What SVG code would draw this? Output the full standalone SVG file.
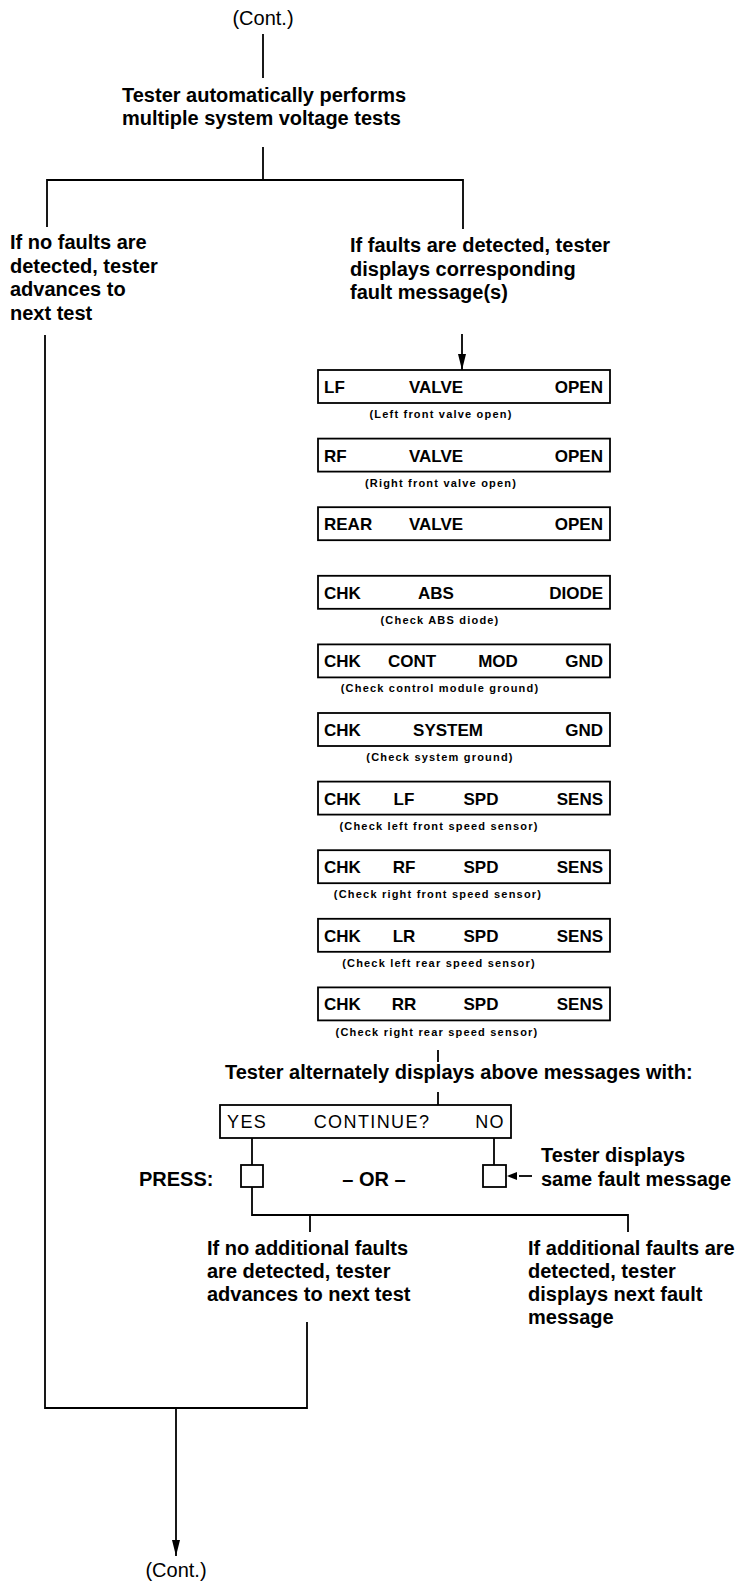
<svg xmlns="http://www.w3.org/2000/svg" width="739" height="1583" viewBox="0 0 739 1583">
<style>
text{font-family:"Liberation Sans",Arial,Helvetica,sans-serif;fill:#000}
.t{font-size:20px;font-weight:bold}
.c{font-size:20px}
.b{font-size:17px;font-weight:bold}
.r{font-size:18px;letter-spacing:1.4px}
.s{font-size:11px;font-weight:bold;letter-spacing:1.2px}
.m{text-anchor:middle}
.e{text-anchor:end}
.box{fill:#fff;stroke:#000;stroke-width:1.8}
.ln{fill:none;stroke:#000;stroke-width:1.8}
</style>
<defs>
<marker id="ah" viewBox="0 0 16 8" refX="16" refY="4" markerWidth="16" markerHeight="8" markerUnits="userSpaceOnUse" orient="auto"><path d="M0,0 L16,4 L0,8 Z" fill="#000"/></marker>
</defs>
<rect width="739" height="1583" fill="#fff"/>

<g id="connectors" class="ln">
<line x1="263" y1="34" x2="263" y2="78"/>
<line x1="263" y1="147" x2="263" y2="180"/>
<polyline points="47,227 47,180 463,180 463,229"/>
<line x1="462" y1="334" x2="462" y2="370" marker-end="url(#ah)"/>
<polyline points="45,335 45,1408 307,1408 307,1322"/>
<line x1="176" y1="1408" x2="176" y2="1556" marker-end="url(#ah)"/>
<line x1="438" y1="1050" x2="438" y2="1062"/>
<line x1="438" y1="1092" x2="438" y2="1105"/>
<line x1="252" y1="1138" x2="252" y2="1165"/>
<polyline points="252,1187 252,1215 628,1215 628,1232"/>
<line x1="310" y1="1215" x2="310" y2="1232"/>
<line x1="494" y1="1138" x2="494" y2="1165"/>
<line x1="532" y1="1176" x2="519" y2="1176"/>
<path d="M507,1176 L517,1172 L517,1180 Z" fill="#000" stroke="none"/>
</g>

<g id="cont-top"><text class="c m" x="263" y="25">(Cont.)</text></g>
<g id="auto-tests">
<text class="t" x="122" y="102">Tester automatically performs</text>
<text class="t" x="122" y="125">multiple system voltage tests</text>
</g>
<g id="no-faults">
<text class="t" x="10" y="249">If no faults are</text>
<text class="t" x="10" y="272.5">detected, tester</text>
<text class="t" x="10" y="296">advances to</text>
<text class="t" x="10" y="319.5">next test</text>
</g>
<g id="faults-detected">
<text class="t" x="350" y="252">If faults are detected, tester</text>
<text class="t" x="350" y="275.5">displays corresponding</text>
<text class="t" x="350" y="299">fault message(s)</text>
</g>

<g id="msg-lf-valve">
<rect class="box" x="318" y="370" width="292" height="33"/>
<text class="b" x="324" y="393">LF</text><text class="b m" x="436" y="393">VALVE</text><text class="b e" x="603" y="393">OPEN</text>
<text class="s m" x="441" y="418">(Left front valve open)</text>
</g>
<g id="msg-rf-valve">
<rect class="box" x="318" y="438.6" width="292" height="33"/>
<text class="b" x="324" y="461.6">RF</text><text class="b m" x="436" y="461.6">VALVE</text><text class="b e" x="603" y="461.6">OPEN</text>
<text class="s m" x="441" y="486.6">(Right front valve open)</text>
</g>
<g id="msg-rear-valve">
<rect class="box" x="318" y="507.2" width="292" height="33"/>
<text class="b" x="324" y="530.2">REAR</text><text class="b m" x="436" y="530.2">VALVE</text><text class="b e" x="603" y="530.2">OPEN</text>
</g>
<g id="msg-abs-diode">
<rect class="box" x="318" y="575.8" width="292" height="33"/>
<text class="b" x="324" y="598.8">CHK</text><text class="b m" x="436" y="598.8">ABS</text><text class="b e" x="603" y="598.8">DIODE</text>
<text class="s m" x="440" y="623.8">(Check ABS diode)</text>
</g>
<g id="msg-cont-mod-gnd">
<rect class="box" x="318" y="644.4" width="292" height="33"/>
<text class="b" x="324" y="667.4">CHK</text><text class="b m" x="412" y="667.4">CONT</text><text class="b m" x="498" y="667.4">MOD</text><text class="b e" x="603" y="667.4">GND</text>
<text class="s m" x="440" y="692.4">(Check control module ground)</text>
</g>
<g id="msg-system-gnd">
<rect class="box" x="318" y="713" width="292" height="33"/>
<text class="b" x="324" y="736">CHK</text><text class="b m" x="448" y="736">SYSTEM</text><text class="b e" x="603" y="736">GND</text>
<text class="s m" x="440" y="761">(Check system ground)</text>
</g>
<g id="msg-lf-spd">
<rect class="box" x="318" y="781.6" width="292" height="33"/>
<text class="b" x="324" y="804.6">CHK</text><text class="b m" x="404" y="804.6">LF</text><text class="b m" x="481" y="804.6">SPD</text><text class="b e" x="603" y="804.6">SENS</text>
<text class="s m" x="439" y="829.6">(Check left front speed sensor)</text>
</g>
<g id="msg-rf-spd">
<rect class="box" x="318" y="850.2" width="292" height="33"/>
<text class="b" x="324" y="873.2">CHK</text><text class="b m" x="404" y="873.2">RF</text><text class="b m" x="481" y="873.2">SPD</text><text class="b e" x="603" y="873.2">SENS</text>
<text class="s m" x="438" y="898.2">(Check right front speed sensor)</text>
</g>
<g id="msg-lr-spd">
<rect class="box" x="318" y="918.8" width="292" height="33"/>
<text class="b" x="324" y="941.8">CHK</text><text class="b m" x="404" y="941.8">LR</text><text class="b m" x="481" y="941.8">SPD</text><text class="b e" x="603" y="941.8">SENS</text>
<text class="s m" x="439" y="966.8">(Check left rear speed sensor)</text>
</g>
<g id="msg-rr-spd">
<rect class="box" x="318" y="987.4" width="292" height="33"/>
<text class="b" x="324" y="1010.4">CHK</text><text class="b m" x="404" y="1010.4">RR</text><text class="b m" x="481" y="1010.4">SPD</text><text class="b e" x="603" y="1010.4">SENS</text>
<text class="s m" x="437" y="1036">(Check right rear speed sensor)</text>
</g>

<g id="alternately"><text class="t" x="225" y="1079">Tester alternately displays above messages with:</text></g>
<g id="continue-box">
<rect class="box" x="220" y="1105" width="291" height="33"/>
<text class="r" x="227" y="1128">YES</text><text class="r m" x="372" y="1128">CONTINUE?</text><text class="r e" x="505" y="1128">NO</text>
</g>
<g id="press"><text class="t" x="139" y="1186">PRESS:</text></g>
<g id="yes-button"><rect class="box" x="241" y="1165" width="22" height="22"/></g>
<g id="or"><text class="t m" x="374" y="1186">– OR –</text></g>
<g id="no-button"><rect class="box" x="483" y="1165" width="23" height="22"/></g>
<g id="same-fault">
<text class="t" x="541" y="1162">Tester displays</text>
<text class="t" x="541" y="1186">same fault message</text>
</g>
<g id="no-additional">
<text class="t" x="207" y="1255">If no additional faults</text>
<text class="t" x="207" y="1278">are detected, tester</text>
<text class="t" x="207" y="1301">advances to next test</text>
</g>
<g id="additional">
<text class="t" x="528" y="1255">If additional faults are</text>
<text class="t" x="528" y="1278">detected, tester</text>
<text class="t" x="528" y="1301">displays next fault</text>
<text class="t" x="528" y="1324">message</text>
</g>
<g id="cont-bottom"><text class="c m" x="176" y="1577">(Cont.)</text></g>
</svg>
